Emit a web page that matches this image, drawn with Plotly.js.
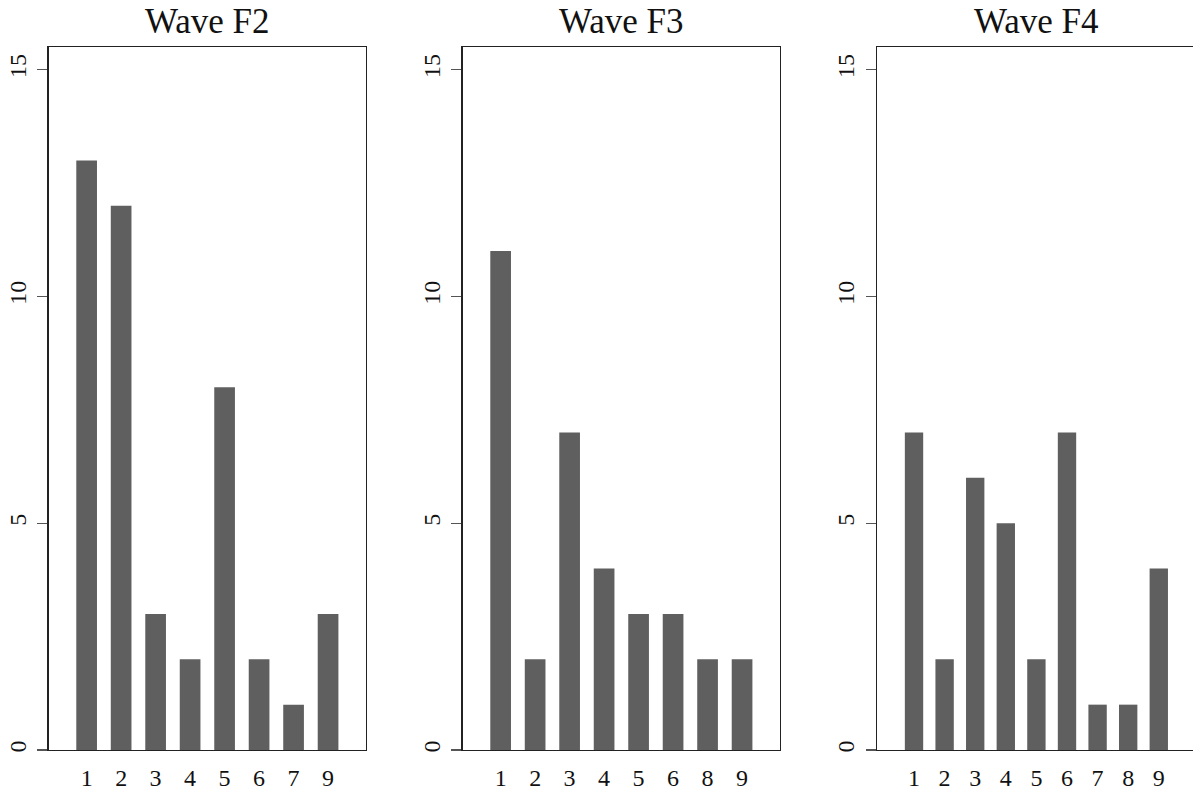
<!DOCTYPE html>
<html>
<head>
<meta charset="utf-8">
<script src="https://cdn.plot.ly/plotly-3.0.1.min.js"></script>
<style>html,body{margin:0;padding:0;overflow:hidden;background:#fff;}</style>
</head>
<body>
<div id="chart"></div>
<script>
// Data
const titles = ["Wave F2", "Wave F3", "Wave F4"];
const catsF2 = ["1","2","3","4","5","6","7","9"];
const valsF2 = [13, 12, 3, 2, 8, 2, 1, 3];
const catsF3 = ["1","2","3","4","5","6","8","9"];
const valsF3 = [11, 2, 7, 4, 3, 3, 2, 2];
const catsF4 = ["1","2","3","4","5","6","7","8","9"];
const valsF4 = [7, 2, 6, 5, 2, 7, 1, 1, 4];
const yTicks = [0, 5, 10, 15];

const W = 1196, H = 794;
const mt = 47, mb = 44;
const panels = [
  {cats: catsF2, vals: valsF2, x0: 48.7, x1: 366.0, pad: 1.1},
  {cats: catsF3, vals: valsF3, x0: 462.7, x1: 780.0, pad: 1.1},
  {cats: catsF4, vals: valsF4, x0: 877.3, x1: 1195.5, pad: 1.2}
];

const serif = "Liberation Serif, Times New Roman, serif";
const traces = [];
const layout = {
  width: W, height: H,
  margin: {l: 0, r: 0, t: mt, b: mb, pad: 0},
  paper_bgcolor: "#fff", plot_bgcolor: "#fff",
  showlegend: false,
  bargap: 0.4,
  annotations: []
};

panels.forEach((p, i) => {
  const n = i === 0 ? "" : String(i + 1);
  traces.push({
    type: "bar",
    x: p.cats, y: p.vals,
    xaxis: "x" + n, yaxis: "y" + n,
    marker: {color: "#5f5f5f", line: {width: 0}},
    hoverinfo: "skip"
  });
  const d0 = p.x0 / W, d1 = Math.min(1, p.x1 / W);
  layout["xaxis" + n] = {
    domain: [d0, d1],
    type: "category",
    range: [-0.5 - (p.pad - 0.5), p.cats.length - 1 + p.pad],
    showline: true, mirror: true, linecolor: "#222", linewidth: 1.3,
    ticks: "", showgrid: false, zeroline: false,
    tickfont: {family: serif, size: 24, color: "#111"},
    ticklabelstandoff: 6,
    fixedrange: true, anchor: "y" + n
  };
  layout["yaxis" + n] = {
    range: [0, 15.5],
    tickvals: yTicks, ticktext: yTicks.map(String),
    showline: true, mirror: true, linecolor: "#222", linewidth: 1.3,
    ticks: "outside", ticklen: 10, tickwidth: 1.3, tickcolor: "#555",
    tickangle: -90,
    showgrid: false, zeroline: false,
    tickfont: {family: serif, size: 24, color: "#111"},
    ticklabelstandoff: 2,
    fixedrange: true, anchor: "x" + n
  };
  layout.annotations.push({
    text: titles[i], xref: "paper", yref: "paper",
    x: (p.x0 + p.x1) / 2 / W, y: 1 + 25 / (H - mt - mb),
    xanchor: "center", yanchor: "middle", showarrow: false,
    font: {family: serif, size: 35, color: "#111"}
  });
});

Plotly.newPlot("chart", traces, layout, {displayModeBar: false, staticPlot: true});
</script>
</body>
</html>
